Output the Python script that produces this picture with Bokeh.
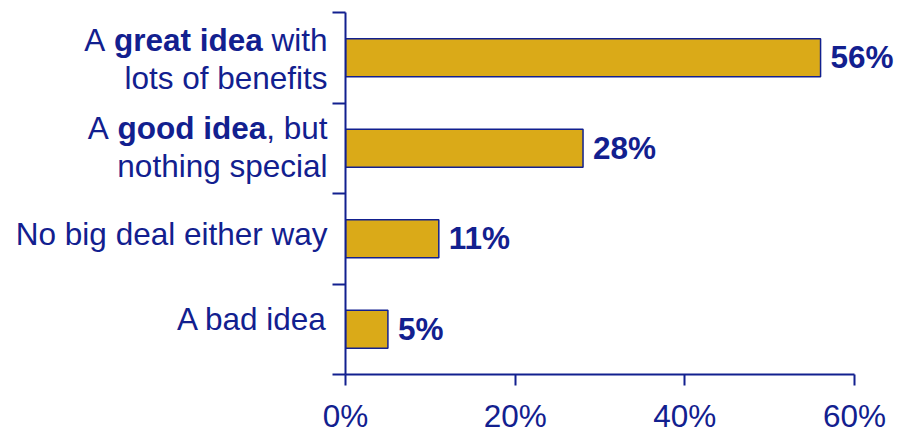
from bokeh.plotting import figure
from bokeh.models import Range1d, FixedTicker, ColumnDataSource
from bokeh.core.properties import value, field
from bokeh.embed import file_html
from bokeh.resources import INLINE

# ---- data ----
categories = [
    "A great idea with lots of benefits",
    "A good idea, but nothing special",
    "No big deal either way",
    "A bad idea",
]
values = [56, 28, 11, 5]
value_labels = ["56%", "28%", "11%", "5%"]
x_ticks = [0, 20, 40, 60]
x_tick_labels = ["0%", "20%", "40%", "60%"]

# category label text, split into lines and (text, bold) runs
label_runs = [
    [[("A ", False), ("great idea", True), (" with", False)], [("lots of benefits", False)]],
    [[("A ", False), ("good idea", True), (", but", False)], [("nothing special", False)]],
    [[("No big deal either way", False)]],
    [[("A bad idea", False)]],
]

# ---- style ----
NAVY = "#12208F"
GOLD = "#DAAA18"
FONT = "Liberation Sans"
FS = 31.5

# Arial / Liberation Sans advance widths (1/1000 em)
REG = {" ": 278, ",": 278, "A": 667, "N": 722, "a": 556, "b": 556, "c": 500, "d": 556,
       "e": 556, "f": 278, "g": 556, "h": 556, "i": 222, "l": 222, "n": 556, "o": 556,
       "p": 556, "r": 333, "s": 500, "t": 278, "u": 556, "w": 722, "y": 500}
BOLD = {" ": 278, ",": 278, "a": 556, "d": 611, "e": 556, "g": 611, "i": 278, "o": 611,
        "r": 389, "t": 333}


def tw(s, bold):
    tab = BOLD if bold else REG
    return sum(tab.get(c, 556) for c in s) * FS / 1000.0


n = len(categories)
pos = [n - i - 0.5 for i in range(n)]

p = figure(width=897, height=436, x_range=Range1d(0, 60), y_range=Range1d(0, n),
           output_backend="svg", toolbar_location=None,
           min_border_left=345, min_border_right=43, min_border_top=12, min_border_bottom=58)
p.outline_line_color = None
p.xgrid.visible = False
p.ygrid.visible = False
p.background_fill_color = "white"
p.border_fill_color = "white"

p.hbar(y=pos, left=0, right=values, height=0.42, fill_color=GOLD,
       line_color=NAVY, line_width=1.5)

# x axis
xa = p.xaxis[0]
xa.ticker = FixedTicker(ticks=x_ticks)
xa.major_label_overrides = {t: l for t, l in zip(x_ticks, x_tick_labels)}
xa.axis_line_color = NAVY
xa.axis_line_width = 2
xa.major_tick_line_color = NAVY
xa.major_tick_line_width = 2
xa.major_tick_out = 11
xa.major_tick_in = 0
xa.minor_tick_line_color = None
xa.major_label_standoff = 12
xa.major_label_text_color = NAVY
xa.major_label_text_font = FONT
xa.major_label_text_font_size = f"{FS}px"

# y axis (ticks at category boundaries)
ya = p.yaxis[0]
ya.ticker = FixedTicker(ticks=list(range(n + 1)))
ya.major_label_overrides = {i: "" for i in range(n + 1)}
ya.axis_line_color = NAVY
ya.axis_line_width = 2
ya.major_tick_line_color = NAVY
ya.major_tick_line_width = 2
ya.major_tick_out = 13
ya.major_tick_in = 0
ya.minor_tick_line_color = None

# category labels (mixed bold), right-aligned left of the axis
line_baselines = [[-17.5, 20.1], [-19.9, 17.7], [-4.6], [-10.0]]
RIGHT = -18
xs, ys, texts, styles, xo, yo = [], [], [], [], [], []
for i, lines in enumerate(label_runs):
    for j, runs in enumerate(lines):
        cur = RIGHT
        for text, bold in reversed(runs):
            core = text.strip()
            lead = text[:len(text) - len(text.lstrip())]
            trail = text[len(text.rstrip()):]
            cur -= tw(trail, False)
            xs.append(0)
            ys.append(pos[i])
            texts.append(core)
            styles.append("bold" if bold else "normal")
            xo.append(cur)
            yo.append(line_baselines[i][j])
            cur -= tw(core, bold)
            cur -= tw(lead, False)

src = ColumnDataSource(dict(x=xs, y=ys, text=texts, style=styles, xo=xo, yo=yo))
p.text(x="x", y="y", text="text", source=src, text_font=value(FONT),
       text_font_size=f"{FS}px", text_font_style=field("style"), text_color=NAVY,
       text_align="right", text_baseline="alphabetic", x_offset="xo", y_offset="yo",
       level="overlay")

# value labels
p.text(x=values, y=pos, text=value_labels, x_offset=10, y_offset=-0.5,
       text_font=value(FONT), text_font_size=f"{FS}px", text_font_style="bold",
       text_color=NAVY, text_align="left", text_baseline="alphabetic", level="overlay")

open("out.html", "w").write(file_html(p, INLINE))
